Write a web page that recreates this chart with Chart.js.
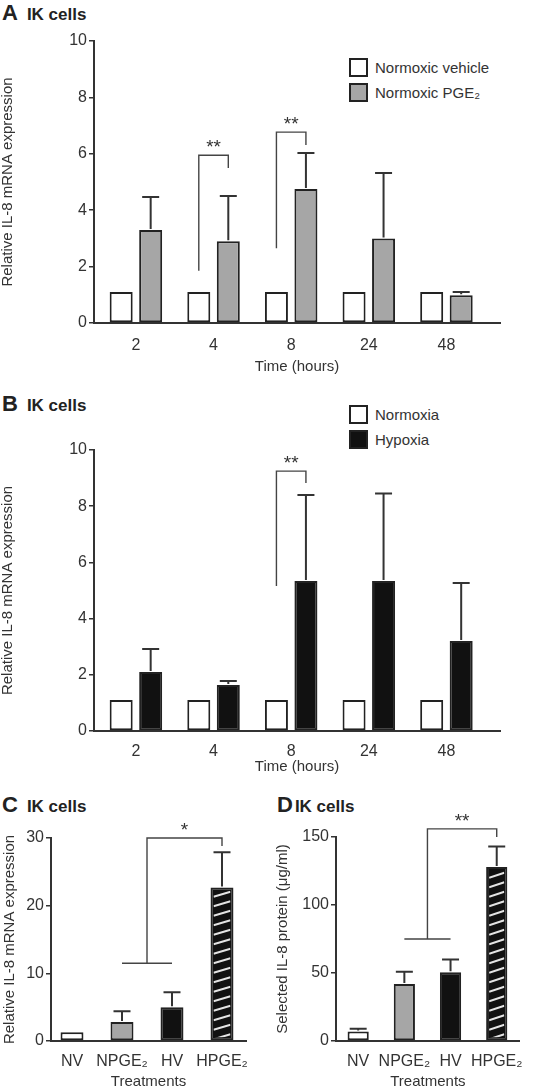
<!DOCTYPE html>
<html>
<head>
<meta charset="utf-8">
<script src="https://cdn.jsdelivr.net/npm/chart.js@4/dist/chart.umd.min.js"></script>
<style>
body { margin: 0; width: 535px; height: 1088px; overflow: hidden; background: #fff; position: relative;
       font-family: "Liberation Sans", Arial, sans-serif; color: #222; }
canvas { position: absolute; }
.tag { position: absolute; font-weight: bold; line-height: 22px; white-space: nowrap; }
.tag b { font-size: 22px; }
.tag span { font-size: 17px; }
.legend { position: absolute; font-size: 15px; color: #333; }
.legend div { height: 25px; display: flex; align-items: center; }
.legend i { display: inline-block; box-sizing: border-box; width: 19px; height: 19px; border: 2px solid #222; margin-right: 7px; }
</style>
</head>
<body>
<div class="tag" style="left:2px;top:2px"><b>A</b><span style="margin-left:9px">IK cells</span></div>
<div class="tag" style="left:2px;top:393px"><b>B</b><span style="margin-left:9px">IK cells</span></div>
<div class="tag" style="left:2px;top:794px"><b>C</b><span style="margin-left:9px">IK cells</span></div>
<div class="tag" style="left:277px;top:794px"><b>D</b><span style="margin-left:2px">IK cells</span></div>

<div class="legend" style="left:349px;top:55px">
  <div><i style="background:#fff"></i>Normoxic vehicle</div>
  <div><i style="background:#a6a6a6"></i>Normoxic PGE₂</div>
</div>
<div class="legend" style="left:349px;top:402px">
  <div><i style="background:#fff"></i>Normoxia</div>
  <div><i style="background:#111"></i>Hypoxia</div>
</div>

<canvas id="chartA" width="535" height="380" style="left:0;top:0"></canvas>
<canvas id="chartB" width="535" height="410" style="left:0;top:370px"></canvas>
<canvas id="chartC" width="265" height="315" style="left:0;top:780px"></canvas>
<canvas id="chartD" width="270" height="315" style="left:265px;top:780px"></canvas>

<script>
// Panels A and B: time course
const hours = ['2', '4', '8', '24', '48'];
const normVehicle = [1.1, 1.1, 1.1, 1.1, 1.1];
const normPGE2 = [3.3, 2.9, 4.75, 3.0, 0.98];
const normPGE2Err = [1.17, 1.6, 1.28, 2.32, 0.12];

const normoxia = [1.1, 1.1, 1.1, 1.1, 1.1];
const hypoxia = [2.1, 1.64, 5.34, 5.34, 3.2];
const hypoxiaErr = [0.82, 0.14, 3.06, 3.11, 2.07];

// Panels C and D: treatments
const treatments = ['NV', 'NPGE₂', 'HV', 'HPGE₂'];
const mrna = [1.3, 2.8, 5.0, 22.7];
const mrnaErr = [0, 1.6, 2.2, 5.2];
const protein = [7, 42, 50.5, 128];
const proteinErr = [2, 9, 9.5, 15];

// significance marks (values in axis units)
const pairsA = [
    { index: 1, left: 1.85, top: 5.95, right: 5.5, label: '**' },
    { index: 2, left: 2.65, top: 6.77, right: 6.31, label: '**' }
];
const pairsB = [
    { index: 2, left: 5.16, top: 9.25, right: 8.83, label: '**' }
];
const groupC = [{ from: 1, to: 2, base: 11.5, target: 3, top: 30, end: 28.8, label: '*' }];
const groupD = [{ from: 1, to: 2, base: 75, target: 3, top: 156, end: 150, label: '**' }];

const WHITE = '#fff', GRAY = '#a6a6a6', BLACK = '#111';

Chart.defaults.font.family = '"Liberation Sans", Arial, sans-serif';
Chart.defaults.font.size = 15;
Chart.defaults.color = '#333';

// error bars, hatching and brackets drawn on top of the bars
const extras = {
    id: 'extras',
    afterDatasetsDraw(chart, args, opts) {
        const ctx = chart.ctx;
        const yScale = chart.scales.y;
        ctx.save();

        (opts.hatch || []).forEach(i => {
            const bar = chart.getDatasetMeta(0).data[i];
            const half = bar.width / 2 - 3;
            const top = bar.y + 3, bottom = bar.base - 3;
            ctx.save();
            ctx.beginPath();
            ctx.rect(bar.x - half, top, half * 2, bottom - top);
            ctx.clip();
            ctx.strokeStyle = '#e4e4e4';
            ctx.lineWidth = 2;
            for (let y = bottom + 2; y > top - 8; y -= 9.5) {
                ctx.beginPath();
                ctx.moveTo(bar.x - half, y);
                ctx.lineTo(bar.x + half, y - 5);
                ctx.stroke();
            }
            ctx.restore();
        });

        ctx.strokeStyle = '#333';
        ctx.lineWidth = 2;
        (opts.errors || []).forEach(({ ds, err }) => {
            const values = chart.data.datasets[ds].data;
            chart.getDatasetMeta(ds).data.forEach((bar, i) => {
                if (!err[i]) return;
                const yTop = yScale.getPixelForValue(values[i] + err[i]);
                ctx.beginPath();
                ctx.moveTo(bar.x, bar.y - 1);
                ctx.lineTo(bar.x, yTop);
                ctx.moveTo(bar.x - 8.5, yTop);
                ctx.lineTo(bar.x + 8.5, yTop);
                ctx.stroke();
            });
        });

        ctx.strokeStyle = '#444';
        ctx.lineWidth = 1.4;
        ctx.fillStyle = '#333';
        ctx.font = '19px "Liberation Sans", Arial, sans-serif';
        ctx.textAlign = 'center';
        ctx.textBaseline = 'bottom';

        (opts.pairs || []).forEach(b => {
            const x1 = chart.getDatasetMeta(0).data[b.index].x;
            const x2 = chart.getDatasetMeta(1).data[b.index].x;
            const yt = yScale.getPixelForValue(b.top);
            ctx.beginPath();
            ctx.moveTo(x1, yScale.getPixelForValue(b.left));
            ctx.lineTo(x1, yt);
            ctx.lineTo(x2, yt);
            ctx.lineTo(x2, yScale.getPixelForValue(b.right));
            ctx.stroke();
            ctx.fillText(b.label, (x1 + x2) / 2, yt + 2);
        });

        (opts.groups || []).forEach(b => {
            const bars = chart.getDatasetMeta(0).data;
            const xa = bars[b.from].x, xb = bars[b.to].x, xt = bars[b.target].x;
            const xm = (xa + xb) / 2;
            const yb = yScale.getPixelForValue(b.base);
            const yt = yScale.getPixelForValue(b.top);
            ctx.beginPath();
            ctx.moveTo(xa, yb);
            ctx.lineTo(xb, yb);
            ctx.moveTo(xm, yb);
            ctx.lineTo(xm, yt);
            ctx.lineTo(xt, yt);
            ctx.lineTo(xt, yScale.getPixelForValue(b.end));
            ctx.stroke();
            ctx.fillText(b.label, (xm + xt) / 2, yt + 2);
        });

        ctx.restore();
    }
};

function makeChart(id, o) {
    return new Chart(document.getElementById(id), {
        type: 'bar',
        data: { labels: o.labels.map((l, i) => i), datasets: o.datasets },
        options: {
            responsive: false,
            animation: false,
            layout: { padding: o.padding },
            datasets: {
                bar: { borderColor: '#222', borderWidth: 2, borderSkipped: false,
                       categoryPercentage: o.cat, barPercentage: o.bar }
            },
            plugins: { legend: { display: false }, tooltip: { enabled: false }, extras: o.extras },
            scales: {
                x: {
                    type: 'linear', min: o.xMin, max: o.xMax, offset: false,
                    grid: { display: false, drawTicks: false, offset: false },
                    border: { color: '#333', width: 2 },
                    ticks: { stepSize: 1, includeBounds: false, autoSkip: false, padding: o.xPad, maxRotation: 0,
                             font: { size: 16, lineHeight: 1 }, callback: v => o.labels[v] ?? '' },
                    title: { display: true, text: o.xTitle, font: { lineHeight: 1 }, padding: { bottom: o.xTitlePad, top: 0 } },
                    afterFit: s => { s.height = o.xHeight; }
                },
                y: {
                    min: 0, max: o.yMax,
                    grid: { drawOnChartArea: false, drawTicks: true, tickLength: 5, color: '#333', lineWidth: 1.5 },
                    border: { color: '#333', width: 2 },
                    ticks: { stepSize: o.yStep, padding: 2, font: { size: 16, lineHeight: 1 } },
                    title: { display: true, text: o.yTitle, font: { lineHeight: 1 }, padding: { top: o.yTitlePad, bottom: 0 } },
                    afterFit: s => { s.width = o.yWidth; }
                }
            }
        },
        plugins: [extras]
    });
}

makeChart('chartA', {
    labels: hours,
    datasets: [
        { data: normVehicle, backgroundColor: WHITE },
        { data: normPGE2, backgroundColor: GRAY }
    ],
    padding: { top: 41, right: 35, bottom: 0, left: 0 },
    cat: 0.76, bar: 0.78,
    xMin: -0.54, xMax: 4.69, xPad: 15, xHeight: 57, xTitle: 'Time (hours)', xTitlePad: 6,
    yMax: 10, yStep: 2, yWidth: 94, yTitle: 'Relative IL-8 mRNA expression', yTitlePad: 0.5,
    extras: { errors: [{ ds: 1, err: normPGE2Err }], pairs: pairsA }
});

makeChart('chartB', {
    labels: hours,
    datasets: [
        { data: normoxia, backgroundColor: WHITE },
        { data: hypoxia, backgroundColor: BLACK }
    ],
    padding: { top: 80, right: 35, bottom: 0, left: 0 },
    cat: 0.76, bar: 0.78,
    xMin: -0.54, xMax: 4.69, xPad: 13, xHeight: 49, xTitle: 'Time (hours)', xTitlePad: 5.5,
    yMax: 10, yStep: 2, yWidth: 94, yTitle: 'Relative IL-8 mRNA expression', yTitlePad: 0.5,
    extras: { errors: [{ ds: 1, err: hypoxiaErr }], pairs: pairsB }
});

makeChart('chartC', {
    labels: treatments,
    datasets: [
        { data: mrna, backgroundColor: [WHITE, GRAY, BLACK, BLACK] }
    ],
    padding: { top: 58, right: 19, bottom: 0, left: 0 },
    cat: 0.9, bar: 0.51,
    xMin: -0.42, xMax: 3.48, xPad: 12.5, xHeight: 54, xTitle: 'Treatments', xTitlePad: 5.5,
    yMax: 30, yStep: 10, yWidth: 51, yTitle: 'Relative IL-8 mRNA expression', yTitlePad: 2.5,
    extras: { errors: [{ ds: 0, err: mrnaErr }], groups: groupC, hatch: [3] }
});

makeChart('chartD', {
    labels: treatments,
    datasets: [
        { data: protein, backgroundColor: [WHITE, GRAY, BLACK, BLACK] }
    ],
    padding: { top: 57, right: 0, bottom: 0, left: 0 },
    cat: 0.9, bar: 0.51,
    xMin: -0.48, xMax: 3.5, xPad: 12.5, xHeight: 54, xTitle: 'Treatments', xTitlePad: 5.5,
    yMax: 150, yStep: 50, yWidth: 71, yTitle: 'Selected IL-8 protein (μg/ml)', yTitlePad: 10.5,
    extras: { errors: [{ ds: 0, err: proteinErr }], groups: groupD, hatch: [3] }
});
</script>
</body>
</html>
